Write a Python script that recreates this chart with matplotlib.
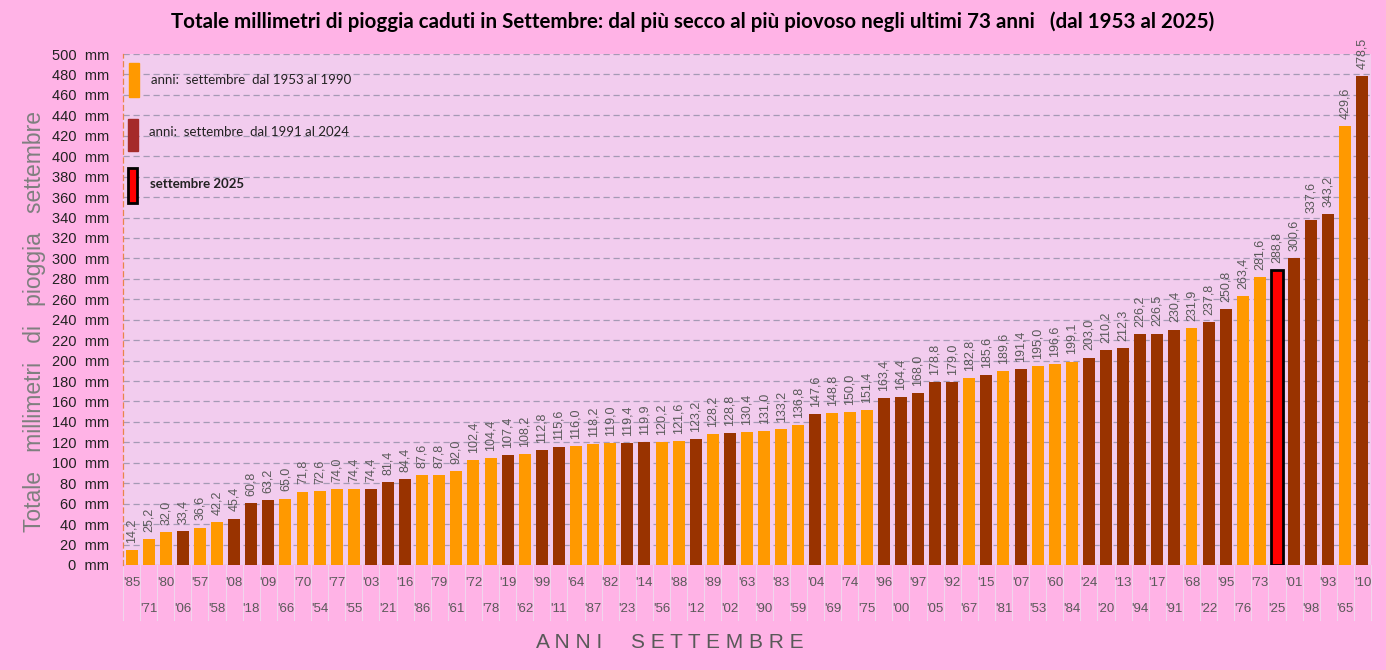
import matplotlib
matplotlib.use("Agg")
import matplotlib.pyplot as plt
from matplotlib.patches import Rectangle
import numpy as np

# anni (ordinati dal più secco al più piovoso) e millimetri caduti
anni = ["'85", "'71", "'80", "'06", "'57", "'58", "'08", "'18", "'09", "'66",
        "'70", "'54", "'77", "'55", "'03", "'21", "'16", "'86", "'79", "'61",
        "'72", "'78", "'19", "'62", "'99", "'11", "'64", "'87", "'82", "'23",
        "'14", "'56", "'88", "'12", "'89", "'02", "'63", "'90", "'83", "'59",
        "'04", "'69", "'74", "'75", "'96", "'00", "'97", "'05", "'92", "'67",
        "'15", "'81", "'07", "'53", "'60", "'84", "'24", "'20", "'13", "'94",
        "'17", "'91", "'68", "'22", "'95", "'76", "'73", "'25", "'01", "'98",
        "'93", "'65", "'10"]
mm = [14.2, 25.2, 32.0, 33.4, 36.6, 42.2, 45.4, 60.8, 63.2, 65.0,
      71.8, 72.6, 74.0, 74.4, 74.4, 81.4, 84.4, 87.6, 87.8, 92.0,
      102.4, 104.4, 107.4, 108.2, 112.8, 115.6, 116.0, 118.2, 119.0, 119.4,
      119.9, 120.2, 121.6, 123.2, 128.2, 128.8, 130.4, 131.0, 133.2, 136.8,
      147.6, 148.8, 150.0, 151.4, 163.4, 164.4, 168.0, 178.8, 179.0, 182.8,
      185.6, 189.6, 191.4, 195.0, 196.6, 199.1, 203.0, 210.2, 212.3, 226.2,
      226.5, 230.4, 231.9, 237.8, 250.8, 263.4, 281.6, 288.8, 300.6, 337.6,
      343.2, 429.6, 478.5]

ORANGE = '#FF9900'
BRUNO = '#993300'
ROSSO = '#FF0000'


def colore(a):
    y = int(a[1:])
    y = 1900 + y if y >= 50 else 2000 + y
    if y == 2025:
        return ROSSO
    if y <= 1990:
        return ORANGE
    return BRUNO


fig = plt.figure(figsize=(13.86, 6.70), dpi=100)
fig.patch.set_facecolor('#FFB3E6')
ax = fig.add_axes([123 / 1386, 105 / 670, (1371 - 123) / 1386, 511 / 670])
ax.set_facecolor('#F2CCEE')

x = np.arange(len(anni))
colori = [colore(a) for a in anni]
bordi = ['black' if c == ROSSO else c for c in colori]
lw = [2 if c == ROSSO else 0 for c in colori]
ax.bar(x, mm, width=0.7, color=colori, edgecolor=bordi, linewidth=lw, zorder=3)

# etichette valori
for xi, v in zip(x, mm):
    ax.text(xi, v + 7, f"{v:.1f}".replace('.', ','), rotation=90, ha='center',
            va='bottom', fontsize=9, color='#595959',
            family='Liberation Sans', zorder=4)

ax.set_xlim(-0.5, len(anni) - 0.5)
ax.set_ylim(0, 500)
ax.set_yticks(range(0, 501, 20))
ax.set_yticklabels([f"{v}  mm" for v in range(0, 501, 20)], fontsize=10.5,
                   family='Liberation Sans', color='#222222')
ax.yaxis.grid(True, linestyle=(0, (5, 3)), color='#A59AB5', linewidth=0.9, zorder=0)
ax.tick_params(axis='y', length=0, pad=10)

# etichette anni su due righe alternate
ax.set_xticks(x)
ax.set_xticklabels([])
ax.tick_params(axis='x', length=0)
for xi, a in zip(x, anni):
    yy = -0.035 if xi % 2 == 0 else -0.086
    ax.text(xi, yy, a, transform=ax.get_xaxis_transform(), ha='center',
            va='center', fontsize=9.5, color='#595959', family='Liberation Sans')
# separatori tra le categorie
for b in np.arange(-0.5, len(anni), 1.0):
    ax.plot([b, b], [0, -0.108], transform=ax.get_xaxis_transform(),
            color='#F0D5EC', linewidth=0.8, clip_on=False)

for s in ['top', 'right', 'bottom']:
    ax.spines[s].set_visible(False)
ax.spines['left'].set_linestyle((0, (4, 3)))
ax.spines['left'].set_color('#E8864A')
ax.spines['left'].set_linewidth(0.9)

# legenda
ax.add_patch(Rectangle((0.0048, 0.916), 0.008, 0.066, transform=ax.transAxes,
                       color=ORANGE, zorder=5))
ax.text(0.0225, 0.949, "anni:  settembre  dal 1953 al 1990", transform=ax.transAxes,
        fontsize=9.5, family='Lato', color='#222222', va='center')
ax.add_patch(Rectangle((0.004, 0.810), 0.008, 0.063, transform=ax.transAxes,
                       color='#A52A2A', zorder=5))
ax.text(0.0209, 0.847, "anni:  settembre  dal 1991 al 2024", transform=ax.transAxes,
        fontsize=9.5, family='Lato', color='#222222', va='center')
ax.add_patch(Rectangle((0.0040, 0.708), 0.0072, 0.069, transform=ax.transAxes,
                       facecolor=ROSSO, edgecolor='black', linewidth=2, zorder=5))
ax.text(0.0217, 0.746, "settembre 2025", transform=ax.transAxes,
        fontsize=9.5, family='Lato', weight='bold', color='#222222', va='center')

fig.text(0.5, 1 - 22 / 670,
         "Totale millimetri di pioggia caduti in Settembre: dal più secco al più piovoso negli ultimi 73 anni   (dal 1953 al 2025)",
         ha='center', va='center', fontsize=14.8, weight='bold', family='Lato')
fig.text(35 / 1386, 1 - 322 / 670,
         "Totale   millimetri   di   pioggia   settembre",
         rotation=90, ha='center', va='center', fontsize=16.5, color='#7F7F7F',
         family='Liberation Sans')
fig.text(670 / 1386, 1 - 643 / 670, "A N N I     S E T T E M B R E",
         ha='center', va='center', fontsize=15, color='#595959',
         family='Liberation Sans')

fig.savefig("out.png", dpi=100, facecolor=fig.get_facecolor())
